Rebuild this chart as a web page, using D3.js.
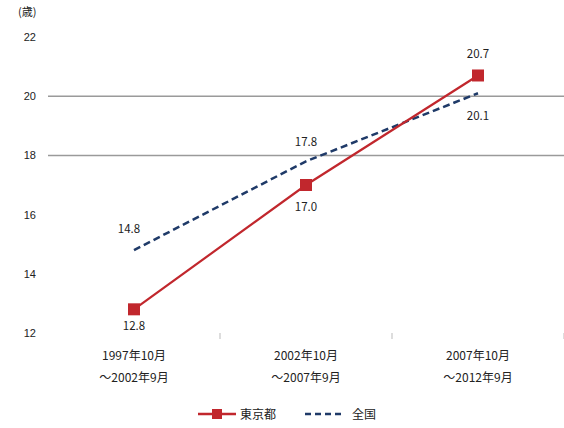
<!DOCTYPE html>
<html>
<head>
<meta charset="utf-8">
<script src="https://cdn.jsdelivr.net/npm/d3@7"></script>
<style>
  html, body { margin: 0; padding: 0; background: #fff; }
  svg { display: block; font-family: "Noto Sans CJK JP", "Noto Sans", sans-serif; }
</style>
</head>
<body>
<svg id="chart" width="564" height="428"></svg>
<script>
// Periods (two-line labels)
const periods = [
  ["1997年10月", "～2002年9月"],
  ["2002年10月", "～2007年9月"],
  ["2007年10月", "～2012年9月"]
];
const tokyo = [12.8, 17.0, 20.7];
const national = [14.8, 17.8, 20.1];
const yTicks = [12, 14, 16, 18, 20, 22];
const gridValues = [18, 20];
const seriesNames = ["東京都", "全国"];
const unitLabel = "(歳)";

const svg = d3.select("#chart");
const W = 564, H = 428;

const x = d3.scaleBand().domain(d3.range(periods.length)).range([48, 564]);
const y = d3.scaleLinear().domain([12, 22]).range([333, 37]);
const cx = i => x(i) + x.bandwidth() / 2;

const red = "#c1272d";
const navy = "#1f3a68";
const textColor = "#222";

// grid lines
svg.append("g").selectAll("line").data(gridValues).join("line")
  .attr("x1", 48).attr("x2", W)
  .attr("y1", d => y(d)).attr("y2", d => y(d))
  .attr("stroke", "#9a9a9a").attr("stroke-width", 1.5);

// y axis labels
const yAxis = svg.append("g").attr("transform", "translate(36,0)")
  .call(d3.axisLeft(y).tickValues(yTicks).tickSize(0).tickPadding(0));
yAxis.select(".domain").remove();
yAxis.selectAll("text").attr("font-size", 11).attr("fill", textColor);

svg.append("text").attr("x", 18).attr("y", 16).attr("font-size", 11)
  .attr("fill", textColor).text(unitLabel);

// x axis: ticks at band boundaries, labels below
const xb = svg.append("g");
xb.selectAll("line").data(d3.range(1, periods.length + 1)).join("line")
  .attr("x1", d => x(d - 1) + x.bandwidth()).attr("x2", d => x(d - 1) + x.bandwidth())
  .attr("y1", 333).attr("y2", 339)
  .attr("stroke", "#bbb").attr("stroke-width", 1);

const xl = svg.append("g").selectAll("text").data(periods).join("text")
  .attr("text-anchor", "middle").attr("font-size", 12).attr("fill", textColor)
  .attr("transform", (d, i) => `translate(${cx(i)},0)`);
xl.append("tspan").attr("x", 0).attr("y", 360).text(d => d[0]);
xl.append("tspan").attr("x", 0).attr("y", 382).text(d => d[1]);

const line = d3.line().x((d, i) => cx(i)).y(d => y(d));

// national (dashed)
svg.append("path").datum(national).attr("d", line)
  .attr("fill", "none").attr("stroke", navy).attr("stroke-width", 2.5)
  .attr("stroke-dasharray", "7,4");

// Tokyo (solid with squares)
svg.append("path").datum(tokyo).attr("d", line)
  .attr("fill", "none").attr("stroke", red).attr("stroke-width", 2.2);
svg.append("g").selectAll("rect").data(tokyo).join("rect")
  .attr("x", (d, i) => cx(i) - 6).attr("y", d => y(d) - 6)
  .attr("width", 12).attr("height", 12).attr("fill", red);

// value labels
const fmt = d3.format(".1f");
const tokyoOffsets = [[0, 17], [0, 22], [0, -21]];
const natOffsets = [[-5, -21], [0, -19], [0, 23]];
svg.append("g").selectAll("text").data(tokyo).join("text")
  .attr("x", (d, i) => cx(i) + tokyoOffsets[i][0]).attr("y", (d, i) => y(d) + tokyoOffsets[i][1] + 4)
  .attr("text-anchor", "middle").attr("font-size", 11.5).attr("fill", textColor)
  .text(d => fmt(d));
svg.append("g").selectAll("text").data(national).join("text")
  .attr("x", (d, i) => cx(i) + natOffsets[i][0]).attr("y", (d, i) => y(d) + natOffsets[i][1] + 4)
  .attr("text-anchor", "middle").attr("font-size", 11.5).attr("fill", textColor)
  .text(d => fmt(d));

// legend
const lg = svg.append("g").attr("transform", "translate(0,414)");
lg.append("line").attr("x1", 198).attr("x2", 236).attr("y1", 0).attr("y2", 0)
  .attr("stroke", red).attr("stroke-width", 2.5);
lg.append("rect").attr("x", 212).attr("y", -5).attr("width", 10).attr("height", 10).attr("fill", red);
lg.append("text").attr("x", 240).attr("y", 4.5).attr("font-size", 12).attr("fill", textColor).text(seriesNames[0]);
lg.append("line").attr("x1", 305).attr("x2", 344).attr("y1", 0).attr("y2", 0)
  .attr("stroke", navy).attr("stroke-width", 2.5).attr("stroke-dasharray", "6,4");
lg.append("text").attr("x", 352).attr("y", 4.5).attr("font-size", 12).attr("fill", textColor).text(seriesNames[1]);
</script>
</body>
</html>
